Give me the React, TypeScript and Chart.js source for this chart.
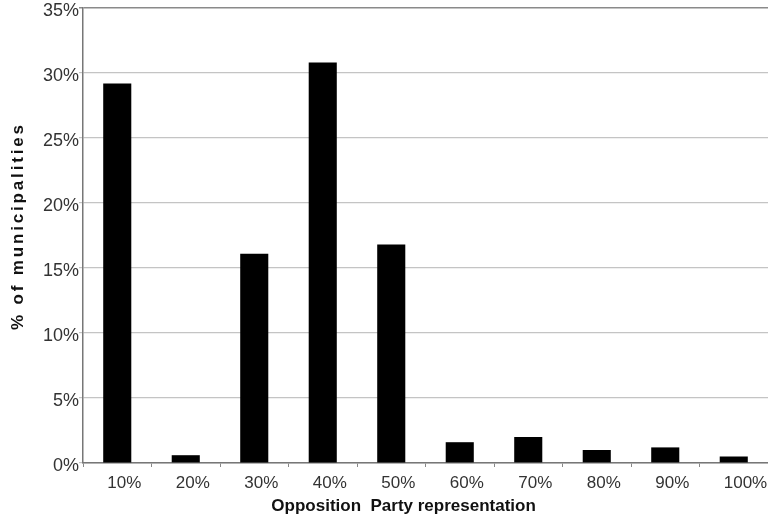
import { useEffect, useRef } from 'react';
import { Chart, registerables } from 'chart.js';

Chart.register(...registerables);

const categories = ['10%', '20%', '30%', '40%', '50%', '60%', '70%', '80%', '90%', '100%'];
const shares = [29.2, 0.6, 16.1, 30.8, 16.8, 1.6, 2.0, 1.0, 1.2, 0.5];
const yMin = 0;
const yMax = 35;
const yStep = 5;
const xTitle = 'Opposition  Party representation';
const yTitle = '% of municipalities';

const FONT = '"Liberation Sans", Arial, Helvetica, sans-serif';

const titlePlugin = {
  id: 'customTitles',
  afterDraw(chart: any) {
    const ctx = chart.ctx as CanvasRenderingContext2D;
    const area = chart.chartArea;
    ctx.save();
    ctx.fillStyle = '#111';
    ctx.textAlign = 'center';
    ctx.textBaseline = 'middle';
    ctx.font = `bold 17px ${FONT}`;
    ctx.fillText(xTitle, area.left + area.width * 0.468, 506);

    ctx.font = `bold 17px ${FONT}`;
    const w = ctx.measureText(yTitle).width;
    const target = 205;
    const spacing = Math.max(0, (target - w) / (yTitle.length - 1));
    (ctx as any).letterSpacing = `${spacing}px`;
    ctx.translate(18, (area.top + area.bottom) / 2 - 8);
    ctx.rotate(-Math.PI / 2);
    ctx.fillText(yTitle, spacing / 2, 0);
    ctx.restore();
  },
};

export default function App() {
  const ref = useRef<HTMLCanvasElement>(null);

  useEffect(() => {
    if (!ref.current) return;
    const chart = new Chart(ref.current, {
      type: 'bar',
      data: {
        labels: categories,
        datasets: [
          {
            data: shares,
            backgroundColor: '#000',
            borderWidth: 0,
            barPercentage: 0.41,
            categoryPercentage: 1,
          },
        ],
      },
      options: {
        animation: false,
        responsive: false,
        layout: { padding: { top: 8, right: 0, left: 0, bottom: 0 } },
        plugins: { legend: { display: false }, tooltip: { enabled: false } },
        scales: {
          x: {
            offset: true,
            grid: {
              display: true,
              drawOnChartArea: false,
              drawTicks: true,
              tickLength: 4,
              color: '#888',
              offset: true,
            },
            border: { display: true, color: '#777', width: 1.5 },
            ticks: {
              font: { family: FONT, size: 17 },
              color: '#333',
              align: 'start',
              labelOffset: -10,
              padding: 6,
              maxRotation: 0,
              autoSkip: false,
            },
            afterFit(scale: any) {
              scale.height = 57;
              scale.paddingLeft = 0;
              scale.paddingRight = 0;
            },
          },
          y: {
            min: yMin,
            max: yMax,
            ticks: {
              stepSize: yStep,
              font: { family: FONT, size: 18 },
              color: '#333',
              padding: 0,
              labelOffset: 3,
              callback: (v: any) => `${v}%`,
            },
            grid: {
              tickLength: 4,
              color: (c: any) => (c.tick && c.tick.value === yMax ? '#8a8a8a' : '#c4c4c4'),
              lineWidth: (c: any) => (c.tick && c.tick.value === yMax ? 1.5 : 1.2),
            },
            border: { display: true, color: '#777', width: 1.5 },
            afterFit(scale: any) {
              scale.width = 83;
              scale.paddingTop = 0;
              scale.paddingBottom = 0;
            },
          },
        },
      },
      plugins: [titlePlugin],
    });
    return () => chart.destroy();
  }, []);

  return (
    <div style={{ position: 'fixed', left: 0, top: 0, width: 768, height: 520, background: '#fff' }}>
      <canvas ref={ref} width={768} height={520} style={{ width: 768, height: 520 }} />
    </div>
  );
}
